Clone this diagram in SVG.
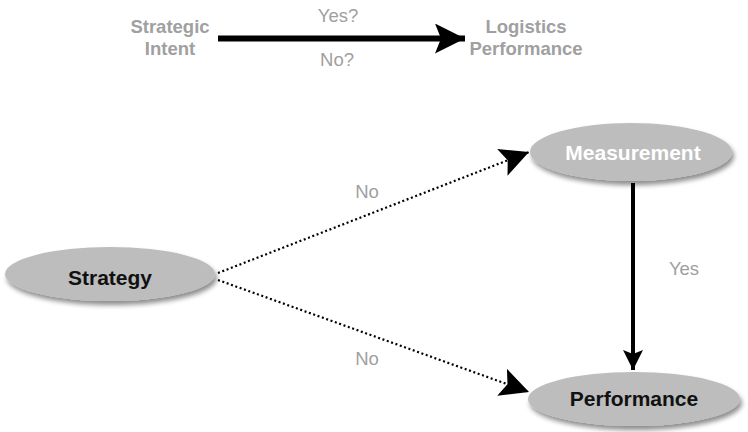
<svg xmlns="http://www.w3.org/2000/svg" width="748" height="432" viewBox="0 0 748 432">
<style>
.node{fill:#bdbdbd;filter:url(#sh)}
.lbl{font-family:"Liberation Sans",Arial,sans-serif;font-weight:bold;font-size:21px;text-anchor:middle}
.gray{font-family:"Liberation Sans",Arial,sans-serif;font-size:18.5px;fill:#a0a0a0;text-anchor:middle}
.grayb{font-family:"Liberation Sans",Arial,sans-serif;font-size:18.5px;font-weight:bold;fill:#a0a0a0;text-anchor:middle}
.dot{stroke:#000;stroke-width:2.2;stroke-dasharray:2 2.6;fill:none}
</style>
<defs>
<filter id="sh" x="-20%" y="-30%" width="140%" height="180%">
<feGaussianBlur in="SourceAlpha" stdDeviation="2.5"/>
<feOffset dx="2" dy="4" result="b"/>
<feComponentTransfer><feFuncA type="linear" slope="0.45"/></feComponentTransfer>
<feMerge><feMergeNode/><feMergeNode in="SourceGraphic"/></feMerge>
</filter>
<marker id="ah" viewBox="0 0 10 10" refX="10" refY="5" markerWidth="5" markerHeight="5" orient="auto" markerUnits="strokeWidth">
<path d="M0,0 L10,5 L0,10 L2,5 z" fill="#000"/>
</marker>
<marker id="ahs" viewBox="0 0 10 10" refX="10" refY="5" markerWidth="13" markerHeight="13" orient="auto" markerUnits="strokeWidth">
<path d="M0,0 L10,5 L0,10 L2,5 z" fill="#000"/>
</marker>
</defs>
<g id="connectors">
<line x1="218" y1="38.5" x2="465" y2="38.5" stroke="#000" stroke-width="6" marker-end="url(#ah)"/>
<line class="dot" x1="218" y1="273" x2="529" y2="152" marker-end="url(#ahs)"/>
<line class="dot" x1="218" y1="280" x2="529" y2="392" marker-end="url(#ahs)"/>
<line x1="633" y1="183" x2="633" y2="370" stroke="#000" stroke-width="4" marker-end="url(#ah)"/>
<text class="gray" x="338" y="22">Yes?</text>
<text class="gray" x="337" y="66">No?</text>
<text class="gray" x="367" y="198">No</text>
<text class="gray" x="367" y="365">No</text>
<text class="gray" x="684" y="275">Yes</text>
</g>
<g id="strategic-intent">
<text class="grayb" x="170" y="33">Strategic</text>
<text class="grayb" x="170" y="55">Intent</text>
</g>
<g id="logistics-performance">
<text class="grayb" x="526" y="33">Logistics</text>
<text class="grayb" x="526" y="55">Performance</text>
</g>
<g id="strategy">
<ellipse class="node" cx="110" cy="274" rx="105" ry="27"/>
<text class="lbl" x="110" y="285" fill="#111">Strategy</text>
</g>
<g id="measurement">
<ellipse class="node" cx="631" cy="152" rx="101" ry="29"/>
<text class="lbl" x="633" y="160" fill="#fff">Measurement</text>
</g>
<g id="performance">
<ellipse class="node" cx="634" cy="399" rx="106" ry="27"/>
<text class="lbl" x="634" y="406" fill="#111">Performance</text>
</g>
</svg>
